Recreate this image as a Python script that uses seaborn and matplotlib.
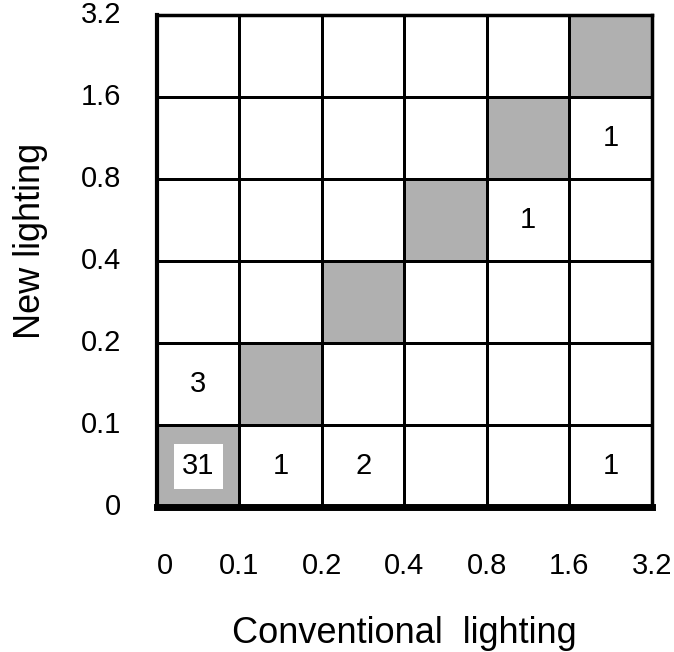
import numpy as np
import pandas as pd
import matplotlib
matplotlib.use("Agg")
import matplotlib.pyplot as plt
import seaborn as sns
from matplotlib.colors import ListedColormap

# bin edges (same for both axes)
edges = ["0", "0.1", "0.2", "0.4", "0.8", "1.6", "3.2"]
bins = ["0-0.1", "0.1-0.2", "0.2-0.4", "0.4-0.8", "0.8-1.6", "1.6-3.2"]

# counts: rows = new lighting bin, cols = conventional lighting bin (bottom row first)
row_0 = [31, 1, 2, 0, 0, 1]
row_1 = [3, 0, 0, 0, 0, 0]
row_2 = [0, 0, 0, 0, 0, 0]
row_3 = [0, 0, 0, 0, 1, 0]
row_4 = [0, 0, 0, 0, 0, 1]
row_5 = [0, 0, 0, 0, 0, 0]

counts = pd.DataFrame([row_0, row_1, row_2, row_3, row_4, row_5],
                      index=bins, columns=bins)
counts = counts.iloc[::-1]  # heatmap draws first row on top

# diagonal cells (same bin on both axes) are shaded
shade = pd.DataFrame(np.eye(6, dtype=int)[::-1], index=counts.index, columns=counts.columns)
labels = counts.astype(str).replace("0", "")

plt.rcParams['font.family'] = ['Liberation Sans', 'DejaVu Sans']

fig = plt.figure(figsize=(6.74, 6.52), dpi=100)
ax = fig.add_axes([0.233, 0.222, 0.734, 0.755])

sns.heatmap(shade, cmap=ListedColormap(["white", "#b0b0b0"]), cbar=False,
            linewidths=2, linecolor="black", annot=labels, fmt="",
            annot_kws={"fontsize": 21, "color": "black"}, ax=ax)

# white box behind the big count
for t in ax.texts:
    if t.get_text() == "31":
        t.set_bbox(dict(facecolor="white", edgecolor="none", pad=6))

for side, lw in [("left", 3), ("top", 2.5), ("right", 2.5), ("bottom", 5)]:
    ax.spines[side].set_visible(True)
    ax.spines[side].set_linewidth(lw)
    ax.spines[side].set_color("black")

ax.set_xticks([0.1, 1, 2, 3, 4, 5, 6])
ax.set_xticklabels(edges, fontsize=21, rotation=0)
ax.set_yticks(range(7))
ax.set_yticklabels(edges[::-1], fontsize=21, rotation=0)
ax.tick_params(axis="x", length=0, pad=32)
ax.tick_params(axis="y", length=0, pad=26)

ax.set_xlabel("Conventional  lighting", fontsize=26, labelpad=26)
ax.set_ylabel("New lighting", fontsize=26, labelpad=23, y=0.54)

fig.savefig("out.png", dpi=100)
